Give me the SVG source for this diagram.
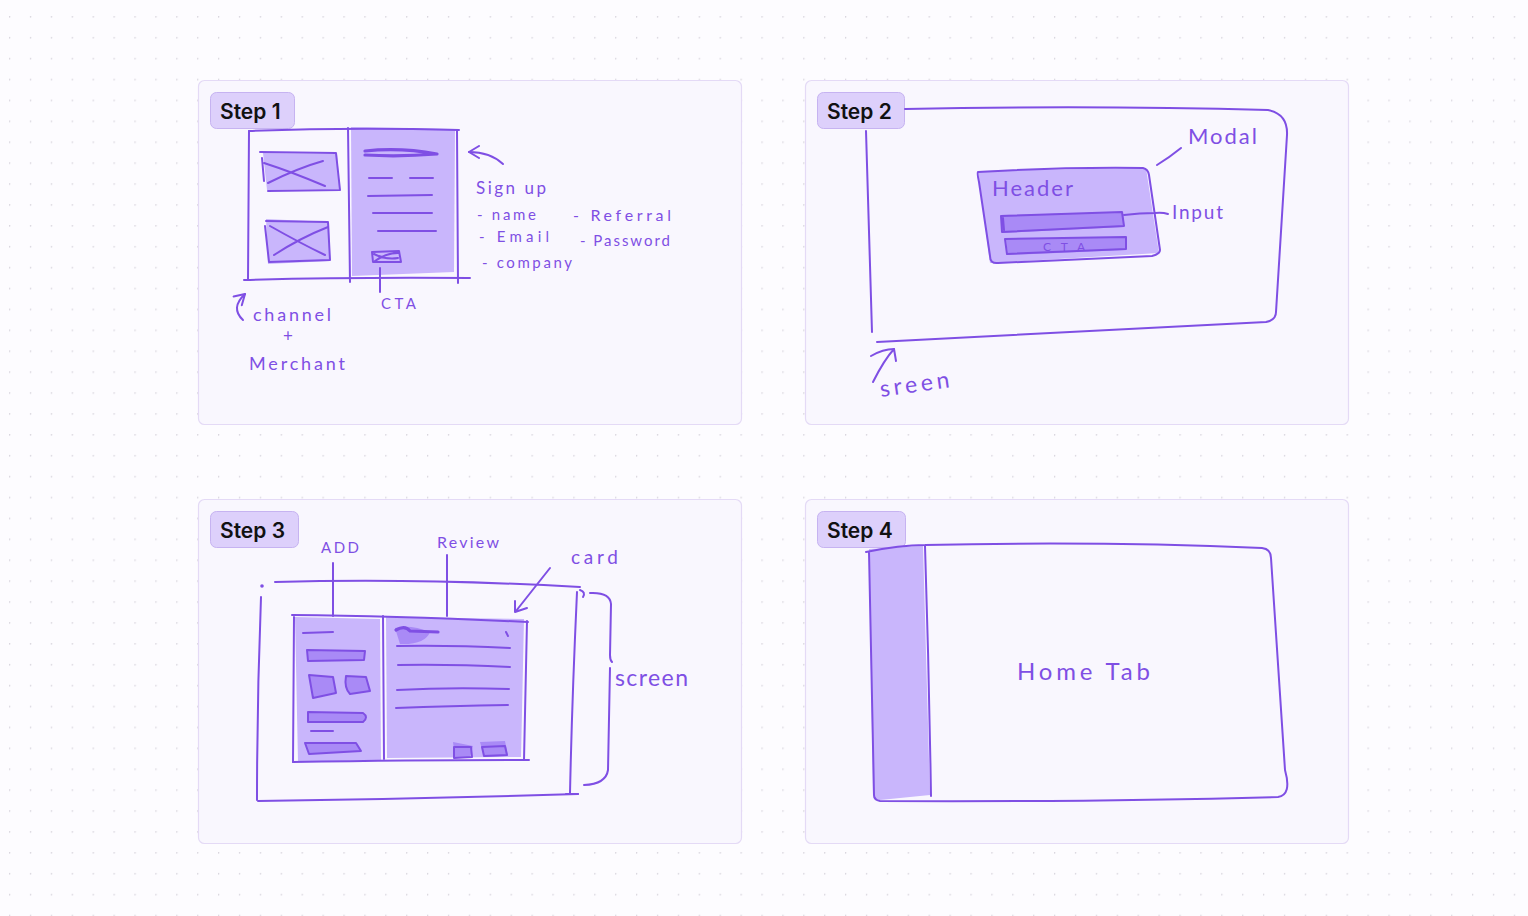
<svg xmlns="http://www.w3.org/2000/svg" width="1528" height="916" viewBox="0 0 1528 916">
<defs>
<pattern id="dots" x="9" y="16" width="20.9" height="20.9" patternUnits="userSpaceOnUse">
<circle cx="0.5" cy="0.8" r="0.9" fill="#d9d6de"/>
</pattern>
<marker id="ahs" markerWidth="14" markerHeight="14" refX="12" refY="7" orient="auto" markerUnits="userSpaceOnUse">
<path d="M2 1 L12 7 L2 13" fill="none" stroke="#7f4fe4" stroke-width="2" stroke-linecap="round" stroke-linejoin="round"/>
</marker>
</defs>
<style>
.panel{fill:#f9f7fe;stroke:#e4daf6;stroke-width:1.2}
.lbl{fill:#ddd0fb;stroke:#c6b3f1;stroke-width:1}
.lt{font-family:Inter,"Liberation Sans",sans-serif;font-size:21px;font-weight:600;fill:#111}
.s{fill:none;stroke:#7f4fe4;stroke-width:2;stroke-linecap:round;stroke-linejoin:round}
.s3{fill:none;stroke:#7f4fe4;stroke-width:3.2;stroke-linecap:round;stroke-linejoin:round}
.f1{fill:#c9b6fc}
.f2{fill:#a98af6}
.h{font-family:Lato,"DejaVu Sans",sans-serif;font-weight:400;fill:#7f4fe4}
</style>
<rect width="1528" height="916" fill="#fdfcff"/>
<rect width="1528" height="916" fill="url(#dots)"/>

<g id="step1">
<rect class="panel" x="198.5" y="80.5" width="543" height="344" rx="6"/>
<rect class="lbl" x="210.5" y="92.5" width="84" height="36" rx="6"/>
<text class="lt" x="220" y="119">Step 1</text>
<path class="f1" d="M351 127 L455 129 L454 272 L352 276 Z"/>
<path class="f1" d="M263 153 L337 154 L340 189 L267 190 Z"/>
<path class="f1" d="M266 219 L329 222 L330 261 L268 264 Z"/>
<path class="s" d="M249 131 Q350 127 459 130"/>
<path class="s" d="M249 131 L248 280"/>
<path class="s" d="M244 280 Q350 277 470 278"/>
<path class="s" d="M348 128 L350 282"/>
<path class="s" d="M457 130 L458 283"/>
<path class="s" d="M260 152 L336 153 L340 190 L268 191 M262 158 L264 181"/>
<path class="s" d="M264 163 Q292 172 325 186 M268 183 Q298 168 323 161"/>
<path class="s" d="M266 221 L328 222 L330 260 L269 262 L265 226"/>
<path class="s" d="M270 226 Q300 243 325 255 M274 255 Q300 238 328 227"/>
<path class="s3" d="M365 151 Q400 147 437 154 Q400 157 365 155"/>
<path class="s" d="M369 178 L392 178 M410 178 L433 178 M368 196 L432 195 M373 213 L432 213 M378 231 L436 231"/>
<path class="s" d="M372 252 L399 251 L401 262 L373 262 Z M374 254 Q386 260 398 258 M375 261 Q386 253 398 253"/>
<path class="s" d="M380 268 L380 292"/>
<path class="s" d="M503 164 Q490 152 469 152" marker-end="url(#ahs)"/>
<text class="h" x="476" y="194" font-size="17" textLength="70" lengthAdjust="spacing">Sign up</text>
<text class="h" x="477" y="220" font-size="15" textLength="59" lengthAdjust="spacing">- name</text>
<text class="h" x="479" y="242" font-size="15" textLength="70" lengthAdjust="spacing">- Email</text>
<text class="h" x="482" y="268" font-size="15" textLength="90" lengthAdjust="spacing">- company</text>
<text class="h" x="573" y="221" font-size="16" textLength="98" lengthAdjust="spacing">- Referral</text>
<text class="h" x="580" y="246" font-size="15" textLength="90" lengthAdjust="spacing">- Password</text>
<path class="s" d="M243 320 Q230 308 245 294" marker-end="url(#ahs)"/>
<text class="h" x="253" y="321" font-size="18" textLength="78" lengthAdjust="spacing">channel</text>
<text class="h" x="283" y="342" font-size="17">+</text>
<text class="h" x="249" y="370" font-size="18" textLength="96" lengthAdjust="spacing">Merchant</text>
<text class="h" x="381" y="309" font-size="15" textLength="35" lengthAdjust="spacing">CTA</text>
</g>

<g id="step2">
<rect class="panel" x="805.5" y="80.5" width="543" height="344" rx="6"/>
<rect class="lbl" x="817.5" y="92.5" width="87" height="36" rx="6"/>
<text class="lt" x="827" y="119">Step 2</text>
<path class="s" d="M905 109 Q1090 105 1268 110 Q1288 114 1287 135 L1276 312 Q1276 320 1266 322 Q1100 330 877 342"/>
<path class="s" d="M866 131 L872 332"/>
<path class="f1" d="M978 171 L1146 168 L1159 253 L990 263 Z"/>
<path class="s" d="M978 172 Q1060 167 1143 168 Q1148 169 1149 175 L1160 250 Q1160 254 1152 256 L998 263 Q990 264 990 256 L979 182 Q977 173 978 172 Z"/>
<path class="f2" d="M1001 215 L1123 212 L1124 227 L1002 233 Z"/>
<path class="s" d="M1001 216 L1122 212 L1124 226 L1002 232 Z M1003 218 L1004 230"/>
<path class="f2" d="M1006 239 L1126 237 L1126 250 L1008 255 Z"/>
<path class="s" d="M1005 239 L1126 237 L1126 249 L1007 254 Z"/>
<text class="h" x="1043" y="251" font-size="12" textLength="42" lengthAdjust="spacing">CTA</text>
<text class="h" x="992" y="196" font-size="22" textLength="81" lengthAdjust="spacing">Header</text>
<path class="s" d="M1124 215 Q1140 213 1155 213 Q1162 212 1168 214"/>
<text class="h" x="1172" y="219" font-size="19" textLength="51" lengthAdjust="spacing">Input</text>
<path class="s" d="M1157 165 Q1170 157 1181 148"/>
<text class="h" x="1188" y="144" font-size="22" textLength="69" lengthAdjust="spacing">Modal</text>
<path class="s" d="M873 382 Q884 360 894 349 L896 361"/>
<path class="s" d="M871 356 Q883 349 894 349"/>
<text class="h" x="881" y="397" font-size="23" textLength="70" lengthAdjust="spacing" transform="rotate(-8 881 397)">sreen</text>
</g>

<g id="step3">
<rect class="panel" x="198.5" y="499.5" width="543" height="344" rx="6"/>
<rect class="lbl" x="210.5" y="511.5" width="88" height="36" rx="6"/>
<text class="lt" x="220" y="538">Step 3</text>
<circle cx="262" cy="586" r="1.8" fill="#7f4fe4"/>
<path class="s" d="M275 582 Q420 578 580 587"/>
<path class="s" d="M261 597 Q257 700 257 800"/>
<path class="s" d="M258 801 Q420 799 578 794"/>
<path class="s" d="M577 592 Q572 700 570 793 M566 794 L578 794"/>
<path class="s" d="M583 597 Q586 592 580 590"/>
<path class="s" d="M590 593 Q610 592 611 604 L610 655 Q610 660 612 662 M610 668 L608 770 Q606 784 584 785"/>
<text class="h" x="615" y="686" font-size="23" textLength="73" lengthAdjust="spacing">screen</text>
<text class="h" x="571" y="564" font-size="19" textLength="47" lengthAdjust="spacing">card</text>
<path class="s" d="M550 568 L516 611 M515 601 L515 612 L527 608"/>
<text class="h" x="321" y="553" font-size="15" textLength="38" lengthAdjust="spacing">ADD</text>
<path class="s" d="M333 563 L333 616"/>
<text class="h" x="437" y="548" font-size="16" textLength="62" lengthAdjust="spacing">Review</text>
<path class="s" d="M447 555 L447 616"/>
<path class="f1" d="M295 617 L380 619 L381 760 L298 762 Z"/>
<path class="f1" d="M386 617 L524 619 L521 757 L387 758 Z"/>
<path class="s" d="M292 615 Q400 616 528 622"/>
<path class="s" d="M294 617 L293 762"/>
<path class="s" d="M293 762 Q420 760 529 760"/>
<path class="s" d="M383 616 L384 759"/>
<path class="s" d="M527 621 L524 760"/>
<path class="s" d="M303 633 L333 632"/>
<path class="f2" d="M307 650 L365 651 L364 660 L308 661 Z"/>
<path class="s" d="M307 650 L365 651 L364 660 L308 661 Z"/>
<path class="f2" d="M309 675 L333 677 L336 693 L313 698 Z"/>
<path class="s" d="M309 675 L333 677 L336 693 L313 698 Z"/>
<path class="f2" d="M346 676 L366 677 L370 691 L350 694 Q344 688 346 676 Z"/>
<path class="s" d="M346 676 L366 677 L370 691 L350 694 Q344 688 346 676 Z"/>
<path class="f2" d="M308 712 L363 713 Q369 717 363 722 L308 722 Z"/>
<path class="s" d="M308 712 L363 713 Q369 717 363 722 L308 722 Z"/>
<path class="s" d="M311 731 L333 731"/>
<path class="f2" d="M305 743 L356 743 L361 751 L309 754 Z"/>
<path class="s" d="M305 743 L356 743 L361 751 L309 754 Z"/>
<path class="f2" d="M395 628 Q410 624 430 632 Q425 645 400 644 Z"/>
<path class="s3" d="M396 630 Q405 625 410 631 L438 632"/>
<path class="s" d="M506 632 L508 636"/>
<path class="s" d="M397 646 Q450 645 510 648"/>
<path class="s" d="M398 665 Q450 664 510 667"/>
<path class="s" d="M397 690 Q450 687 509 689"/>
<path class="s" d="M396 708 Q450 706 508 705"/>
<path class="f2" d="M453 742 L473 746 L470 757 L455 758 Z"/>
<path class="s" d="M454 747 L471 747 L472 757 L454 758 Z"/>
<path class="f2" d="M480 742 L505 741 L508 756 L484 757 Z"/>
<path class="s" d="M482 747 L505 746 L507 755 L484 756 Z"/>
</g>

<g id="step4">
<rect class="panel" x="805.5" y="499.5" width="543" height="344" rx="6"/>
<rect class="lbl" x="817.5" y="511.5" width="88" height="36" rx="6"/>
<text class="lt" x="827" y="538">Step 4</text>
<path class="f1" d="M869 549 L923 546 L930 795 L880 800 Q873 800 873 795 Z"/>
<path class="s" d="M866 552 Q900 545 925 545 Q1100 541 1262 548 Q1271 549 1271 558 L1285 770 Q1292 795 1278 797 Q1100 802 880 801 Q874 800 874 795 L869 552"/>
<path class="s" d="M925 546 Q929 670 931 796"/>
<text class="h" x="1017" y="680" font-size="24" textLength="133" lengthAdjust="spacing">Home Tab</text>
</g>
</svg>
